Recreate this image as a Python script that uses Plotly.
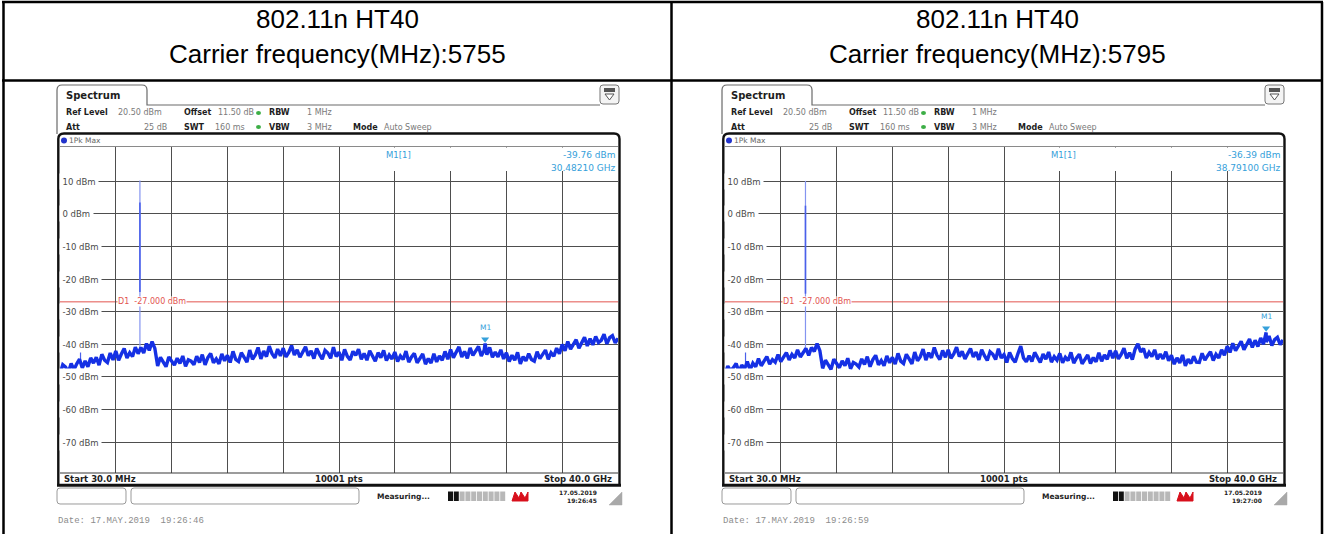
import plotly.graph_objects as go

# ---------------------------------------------------------------- page geometry
W, H = 1325, 534


def X(px):
    return px / W


def Y(py):
    return 1 - py / H


# ---------------------------------------------------------------- sweep settings
F_START, F_STOP = 0.03, 40.0          # GHz
Y_TOP, Y_BOTTOM = 20.5, -79.5         # dBm (ref level 20.5, 10 dB/div)
D1_LEVEL = -27.0
GRID_LEVELS = [10, 0, -10, -20, -30, -40, -50, -60, -70]
GRID_LABELS = ["10 dBm", "0 dBm", "-10 dBm", "-20 dBm", "-30 dBm",
               "-40 dBm", "-50 dBm", "-60 dBm", "-70 dBm"]

carrier_mhz = [5755, 5795]

# Peak-hold trace, 201 points evenly spread over the sweep (dBm)
trace_5755 = [
    -49.1, -46.3, -47.0, -48.6, -45.9, -47.8, -46.0, -44.6, -47.3, -45.1,
    -46.9, -44.2, -45.8, -44.0, -46.4, -43.1, -44.9, -45.6, -42.7, -44.8,
    -42.1, -44.9, -43.0, -41.3, -44.2, -42.6, -43.8, -40.9, -42.9, -41.0,
    -42.7, -39.8, -41.9, -39.2, -41.3,
    -46.7, -44.0, -45.5, -46.9, -43.9, -45.1, -46.4, -44.3, -45.9, -43.6,
    -46.8, -44.8, -45.2, -46.3, -43.7,
    -45.6, -43.2, -46.3, -44.1, -42.8, -45.7, -44.5, -46.0, -43.0, -45.1,
    -43.4, -45.6, -42.2, -44.7, -45.3, -42.6, -44.0, -45.5, -41.8, -44.6,
    -43.3, -41.0, -44.5, -42.1, -43.8, -40.6, -42.9, -44.2, -41.5, -43.6,
    -41.2, -43.9, -42.5, -40.4, -43.3, -41.7, -44.0, -42.1, -40.8, -43.5,
    -42.0, -44.4, -41.3, -43.1, -44.6, -41.9, -42.7, -44.3, -40.9, -43.8,
    -42.4, -44.9, -41.6, -43.7, -44.8, -42.2, -43.4, -41.5, -44.6, -42.8,
    -44.9, -42.0, -43.8, -45.2, -42.6, -44.1, -41.9, -45.0, -43.3, -44.5,
    -42.4, -45.3, -43.6, -44.7, -42.1, -45.5, -43.9, -42.8, -45.7, -44.2,
    -43.0, -46.1, -44.4, -45.8, -42.9, -45.4, -43.6, -44.9, -42.2, -44.6,
    -41.6, -44.1, -42.7, -40.8, -43.9, -42.2, -44.3, -41.1, -43.4, -42.0,
    -40.7, -43.6, -41.9, -43.2, -41.0, -44.0, -42.4, -43.9, -41.7, -44.5,
    -42.6, -45.3, -43.4, -44.9, -42.5, -46.0, -43.8, -45.1, -42.9, -44.7,
    -45.2, -42.3, -44.4, -43.0, -41.8, -44.6, -42.6, -43.7, -41.2, -42.9,
    -40.1, -42.0, -39.2, -41.5, -40.0, -38.6, -41.2, -39.4, -37.9, -40.5,
    -38.3, -40.2, -37.6, -39.5, -38.8, -36.9, -39.9, -38.0, -37.4, -39.6,
    -38.2,
]

trace_5795 = [
    -49.3, -46.7, -48.1, -47.2, -45.9, -48.5, -46.4, -47.6, -45.3, -47.9,
    -45.8, -46.9, -44.4, -46.6, -45.2, -43.8, -46.1, -44.7, -45.5, -43.2,
    -45.3, -43.9, -42.6, -44.8, -43.1, -44.2, -41.7, -43.9, -42.4, -41.3,
    -43.4, -41.0, -42.2, -39.8, -42.0,
    -47.4, -44.9, -46.3, -47.7, -44.6, -46.0, -47.2, -45.1, -46.6, -44.3,
    -47.5, -45.6, -46.1, -47.0, -44.5,
    -46.2, -43.8, -46.9, -44.7, -43.4, -46.3, -45.0, -46.6, -43.6, -45.7,
    -44.0, -46.1, -42.8, -45.2, -45.9, -43.1, -44.5, -46.0, -42.4, -45.1,
    -43.8, -41.5, -44.9, -42.6, -44.2, -41.0, -43.4, -44.7, -41.9, -44.0,
    -41.7, -44.3, -43.0, -40.9, -43.8, -42.2, -44.5, -42.6, -41.3, -43.9,
    -42.4, -44.8, -41.7, -43.5, -45.0, -42.3, -43.1, -44.7, -41.4, -44.2,
    -43.2, -45.6, -42.5, -44.4, -45.5, -42.9, -40.6, -44.2, -45.4, -43.5,
    -45.3, -42.5, -44.2, -45.6, -43.0, -44.6, -42.4, -45.5, -43.8, -44.9,
    -42.8, -45.7, -44.0, -45.0, -42.5, -45.8, -44.2, -43.1, -46.0, -44.5,
    -43.3, -45.9, -44.1, -45.4, -42.6, -45.2, -43.3, -44.6, -41.9, -44.3,
    -42.0, -44.5, -43.1, -41.2, -44.3, -42.6, -44.7, -41.5, -39.9, -42.4,
    -41.3, -44.2, -42.5, -43.8, -41.7, -44.6, -43.0, -44.5, -42.3, -45.1,
    -43.4, -46.1, -44.2, -45.7, -43.3, -46.6, -44.6, -45.9, -43.7, -45.5,
    -45.6, -42.8, -44.9, -43.5, -42.3, -45.0, -43.1, -44.2, -41.7, -43.4,
    -40.6, -42.5, -39.7, -42.0, -40.5, -39.1, -41.7, -39.9, -38.4, -41.0,
    -38.8, -40.7, -38.1, -40.0, -39.3, -37.5, -40.4, -38.6, -37.9, -40.1,
    -38.7,
]

# Carrier spike (fundamental) drawn as a vertical line at the carrier frequency
spike_top = [10.2, 10.1]
spike_core_top = [3.5, 2.5]
spike_core_bottom = [-24.0, -24.5]
spike_base = [-41.0, -41.5]

# Small spur near 1.5 GHz
spur_ghz = [1.50, 1.50]
spur_top = [-40.3, -40.9]
spur_base = [-45.8, -46.2]

# Marker M1
marker_ghz = [30.48210, 38.79100]
marker_dbm = [-39.76, -36.39]

screen_date = ["17.05.2019", "17.05.2019"]
screen_time = ["19:26:45", "19:27:00"]
print_stamp = ["Date: 17.MAY.2019  19:26:46", "Date: 17.MAY.2019  19:26:59"]

# ---------------------------------------------------------------- colours / fonts
TRACE_BLUE = "#1530e4"
SPIKE_LIGHT = "#8494f0"
SPIKE_CORE = "#4a60ea"
MARKER_BLUE = "#35a0da"
D1_RED = "#e2554f"
GRID = "#4e4e4e"
DARK = "#1e1e1e"
GREY_TXT = "#7a7a7a"
UI = "DejaVu Sans"
MONO = "Liberation Mono"

# plot area in pixels (left panel); right panel is shifted by DX
PL, PR, PT, PB = 60, 618, 147, 473
PANEL_DX = [0, 665]

shapes = []
annotations = []
traces = []


def line(x0, y0, x1, y1, color, width=1, layer="above"):
    shapes.append(dict(type="line", xref="paper", yref="paper",
                       x0=X(x0), y0=Y(y0), x1=X(x1), y1=Y(y1),
                       line=dict(color=color, width=width), layer=layer))


def rect(x0, y0, x1, y1, fill=None, color=None, width=0, layer="above"):
    shapes.append(dict(type="rect", xref="paper", yref="paper",
                       x0=X(x0), y0=Y(y1), x1=X(x1), y1=Y(y0),
                       fillcolor=fill or "rgba(0,0,0,0)",
                       line=dict(color=color or "rgba(0,0,0,0)", width=width),
                       layer=layer))


def path(d_px, fill=None, color=None, width=1, layer="above"):
    # d_px: list of (cmd, [x, y, ...]) in pixels
    parts = []
    for cmd, pts in d_px:
        coords = []
        for i in range(0, len(pts), 2):
            coords.append(f"{X(pts[i]):.5f},{Y(pts[i + 1]):.5f}")
        parts.append(cmd + " ".join(coords))
    shapes.append(dict(type="path", xref="paper", yref="paper",
                       path=" ".join(parts) + (" Z" if fill else ""),
                       fillcolor=fill or "rgba(0,0,0,0)",
                       line=dict(color=color or "rgba(0,0,0,0)", width=width),
                       layer=layer))


def rrect(x0, y0, x1, y1, r, fill=None, color=None, width=1):
    path([("M", [x0 + r, y0]), ("L", [x1 - r, y0]), ("Q", [x1, y0, x1, y0 + r]),
          ("L", [x1, y1 - r]), ("Q", [x1, y1, x1 - r, y1]), ("L", [x0 + r, y1]),
          ("Q", [x0, y1, x0, y1 - r]), ("L", [x0, y0 + r]), ("Q", [x0, y0, x0 + r, y0])],
         fill=fill or "rgba(0,0,0,0)", color=color, width=width)


def text(x, y, s, size=8, color=DARK, anchor="left", family=UI, bg=None, yanchor="middle"):
    annotations.append(dict(xref="paper", yref="paper", x=X(x), y=Y(y), text=s,
                            showarrow=False, xanchor=anchor, yanchor=yanchor,
                            font=dict(family=family, size=size, color=color),
                            bgcolor=bg, borderpad=0))


# ---------------------------------------------------------------- table frame
line(2, 2, 1323, 2, "#000", 2.5)
line(3.5, 2, 3.5, 534, "#000", 2.5)
line(671.5, 2, 671.5, 534, "#000", 2.5)
line(1322, 2, 1322, 534, "#000", 2.5)
line(2, 80.5, 1323, 80.5, "#000", 2.5)

cell_centres = [337, 997]
for k in range(2):
    text(cell_centres[k], 19, "802.11n HT40", size=26, color="#000",
         anchor="center", family="Liberation Sans")
    text(cell_centres[k], 54, f"Carrier frequency(MHz):{carrier_mhz[k]}", size=26,
         color="#000", anchor="center", family="Liberation Sans")

layout_axes = {}
freq_ticks = [F_START + i * (F_STOP - F_START) / 10 for i in range(1, 10)]

for k, dx in enumerate(PANEL_DX):
    xa = "x" if k == 0 else "x2"
    ya = "y" if k == 0 else "y2"
    xkey = "xaxis" if k == 0 else "xaxis2"
    ykey = "yaxis" if k == 0 else "yaxis2"
    layout_axes[xkey] = dict(domain=[X(PL + dx), X(PR + dx)], range=[F_START, F_STOP],
                             tickvals=freq_ticks, showticklabels=False, ticks="",
                             showgrid=True, gridcolor=GRID, gridwidth=1,
                             zeroline=False, showline=False, anchor=ya, fixedrange=True)
    layout_axes[ykey] = dict(domain=[Y(PB), Y(PT)], range=[Y_BOTTOM, Y_TOP],
                             tickvals=GRID_LEVELS, showticklabels=False, ticks="",
                             showgrid=True, gridcolor=GRID, gridwidth=1,
                             zeroline=False, showline=False, anchor=xa, fixedrange=True)

    # ---- window chrome: tab, header line, icon
    path([("M", [57 + dx, 134]), ("L", [57 + dx, 90]), ("Q", [57 + dx, 85, 62 + dx, 85]),
          ("L", [142 + dx, 85]), ("Q", [147 + dx, 85, 147 + dx, 90]),
          ("L", [147 + dx, 105]), ("L", [600 + dx, 105])], color="#6a6a6a", width=1.2)
    text(65 + dx, 95, "<b>Spectrum</b>", size=10, color=DARK)
    rrect(600 + dx, 85, 619 + dx, 104, 3, fill="#f4f4f4", color="#777", width=1)
    rect(604 + dx, 88, 615 + dx, 92, fill="#555")
    path([("M", [605 + dx, 94]), ("L", [614 + dx, 94]), ("L", [609.5 + dx, 100])],
         fill="#ffffff", color="#555", width=1)

    # ---- settings rows
    for xx, yy, s, col, anc in [
        (65, 113, "<b>Ref Level</b>", DARK, "left"),
        (117, 113, "20.50 dBm", GREY_TXT, "left"),
        (183, 113, "<b>Offset</b>", DARK, "left"),
        (217, 113, "11.50 dB", GREY_TXT, "left"),
        (268, 113, "<b>RBW</b>", DARK, "left"),
        (306, 113, "1 MHz", GREY_TXT, "left"),
        (65, 127, "<b>Att</b>", DARK, "left"),
        (168, 127, "25 dB", GREY_TXT, "right"),
        (183, 127, "<b>SWT</b>", DARK, "left"),
        (246, 127, "160 ms", GREY_TXT, "right"),
        (268, 127, "<b>VBW</b>", DARK, "left"),
        (306, 127, "3 MHz", GREY_TXT, "left"),
        (352, 127, "<b>Mode</b>", DARK, "left"),
        (383, 127, "Auto Sweep", GREY_TXT, "left"),
    ]:
        text(xx + dx, yy, s, size=8, color=col, anchor=anc)
    for yy in (113, 127):
        shapes.append(dict(type="circle", xref="paper", yref="paper",
                           x0=X(256 + dx), x1=X(261 + dx), y0=Y(yy + 2), y1=Y(yy - 2),
                           fillcolor="#3cae46", line=dict(width=0)))

    # ---- trace header bar
    line(PL + dx, 146.5, PR + dx, 146.5, "#8a8a8a", 1)
    shapes.append(dict(type="circle", xref="paper", yref="paper",
                       x0=X(61 + dx), x1=X(67 + dx), y0=Y(143.5), y1=Y(137.5),
                       fillcolor="#2233cc", line=dict(width=0)))
    text(68 + dx, 140.5, "1Pk Max", size=7.5, color="#666")

    # ---- marker readout area (covers the grid)
    rect(345 + dx, 147.5, PR + dx - 0.5, 171, fill="#ffffff")
    text(385 + dx, 155, "M1[1]", size=8.5, color=MARKER_BLUE)
    text(PR + dx - 1, 155, f"{marker_dbm[k]:.2f} dBm", size=9, color=MARKER_BLUE, anchor="right")
    text(PR + dx - 1, 168, f"{marker_ghz[k]:.5f} GHz", size=9, color=MARKER_BLUE, anchor="right")

    # ---- level labels, white backed so the grid stops at the text
    for lvl, lab in zip(GRID_LEVELS, GRID_LABELS):
        annotations.append(dict(xref="paper", yref=ya, x=X(59.3 + dx), y=lvl, text=lab,
                                showarrow=False, xanchor="left", yanchor="middle",
                                bgcolor="#ffffff", borderpad=2.5,
                                font=dict(family=UI, size=8.5, color="#4a4a4a")))

    # ---- D1 display line
    shapes.append(dict(type="line", xref=xa, yref=ya, x0=F_START, x1=F_STOP,
                       y0=D1_LEVEL, y1=D1_LEVEL, line=dict(color=D1_RED, width=1),
                       layer="below"))

    # ---- spike and spur
    fc = carrier_mhz[k] / 1000.0
    traces.append(go.Scatter(x=[fc, fc], y=[spike_base[k], spike_top[k]], mode="lines",
                             line=dict(color=SPIKE_LIGHT, width=1.2), xaxis=xa, yaxis=ya,
                             hoverinfo="skip"))
    traces.append(go.Scatter(x=[fc, fc], y=[spike_core_bottom[k], spike_core_top[k]],
                             mode="lines", line=dict(color=SPIKE_CORE, width=1.6),
                             xaxis=xa, yaxis=ya, hoverinfo="skip"))
    traces.append(go.Scatter(x=[spur_ghz[k]] * 2, y=[spur_base[k], spur_top[k]], mode="lines",
                             line=dict(color=SPIKE_CORE, width=1.2), xaxis=xa, yaxis=ya,
                             hoverinfo="skip"))

    # ---- main trace (with the marker reading placed on it)
    vals = trace_5755 if k == 0 else trace_5795
    step = (F_STOP - F_START) / (len(vals) - 1)
    pts = [(F_START + i * step, v) for i, v in enumerate(vals)]
    pts.append((marker_ghz[k], marker_dbm[k]))
    pts.sort()
    traces.append(go.Scatter(x=[p[0] for p in pts], y=[p[1] for p in pts], mode="lines",
                             line=dict(color=TRACE_BLUE, width=3.4), xaxis=xa, yaxis=ya,
                             hoverinfo="skip"))

    # ---- marker symbol
    traces.append(go.Scatter(x=[marker_ghz[k]], y=[marker_dbm[k] + 1.3], mode="markers",
                             marker=dict(symbol="triangle-down", size=7, color=MARKER_BLUE),
                             xaxis=xa, yaxis=ya, hoverinfo="skip"))
    annotations.append(dict(xref=xa, yref=ya, x=marker_ghz[k], y=marker_dbm[k], text="M1",
                            showarrow=False, yshift=16, xanchor="center", yanchor="middle",
                            font=dict(family=UI, size=7.5, color=MARKER_BLUE)))

    # D1 label
    annotations.append(dict(xref="paper", yref=ya, x=X(117 + dx), y=D1_LEVEL,
                            text="D1  -27.000 dBm", showarrow=False, xanchor="left",
                            yanchor="middle", bgcolor="#ffffff", borderpad=0,
                            font=dict(family=UI, size=8, color=D1_RED)))

    # ---- diagram frame
    line(PL + dx, PB, PR + dx, PB, "#3a3a3a", 1.2)
    path([("M", [58.3 + dx, 486]), ("L", [58.3 + dx, 139]), ("Q", [58.3 + dx, 133.5, 64 + dx, 133.5]),
          ("L", [614 + dx, 133.5]), ("Q", [619.5 + dx, 133.5, 619.5 + dx, 139]),
          ("L", [619.5 + dx, 486])], color="#111", width=2.4)
    line(57 + dx, 485.2, 621 + dx, 485.2, "#111", 3)

    text(63 + dx, 479, "<b>Start 30.0 MHz</b>", size=8.5, color=DARK)
    text(339 + dx, 479, "<b>10001 pts</b>", size=8.5, color=DARK, anchor="center")
    text(613 + dx, 479, "<b>Stop 40.0 GHz</b>", size=8.5, color=DARK, anchor="right")

    # ---- status bar
    rrect(57 + dx, 488, 126 + dx, 504, 3, fill="#ffffff", color="#9a9a9a", width=1)
    rrect(131 + dx, 488, 359 + dx, 504, 3, fill="#ffffff", color="#9a9a9a", width=1)
    text(376 + dx, 496, "<b>Measuring...</b>", size=7.5, color=DARK)
    for s in range(10):
        x0 = 448 + s * 5.8
        rect(x0 + dx, 491.5, x0 + 5 + dx, 501, fill="#111111" if s < 2 else "#b8b8b8")
    path([("M", [512 + dx, 501]), ("L", [515 + dx, 492]), ("L", [519 + dx, 498]),
          ("L", [521 + dx, 492]), ("L", [525 + dx, 498]), ("L", [528 + dx, 492]),
          ("L", [528 + dx, 501])], fill="#d8101c", color="#d8101c", width=1)
    text(598 + dx, 492, f"<b>{screen_date[k]}</b>", size=6, color=DARK, anchor="right")
    text(598 + dx, 500, f"<b>{screen_time[k]}</b>", size=6, color=DARK, anchor="right")
    path([("M", [609 + dx, 505]), ("L", [622 + dx, 492]), ("L", [622 + dx, 505])],
         fill="#a9a9a9", color="#a9a9a9", width=0.5)

    # ---- print stamp under the screen
    text(57 + dx, 521, print_stamp[k], size=9, color="#8c8c8c", family=MONO)

fig = go.Figure(data=traces)
fig.update_layout(
    width=W, height=H,
    margin=dict(l=0, r=0, t=0, b=0),
    paper_bgcolor="#ffffff", plot_bgcolor="#ffffff",
    showlegend=False,
    shapes=shapes, annotations=annotations,
    **layout_axes,
)
fig.write_html("out.html", config={"displayModeBar": False})
